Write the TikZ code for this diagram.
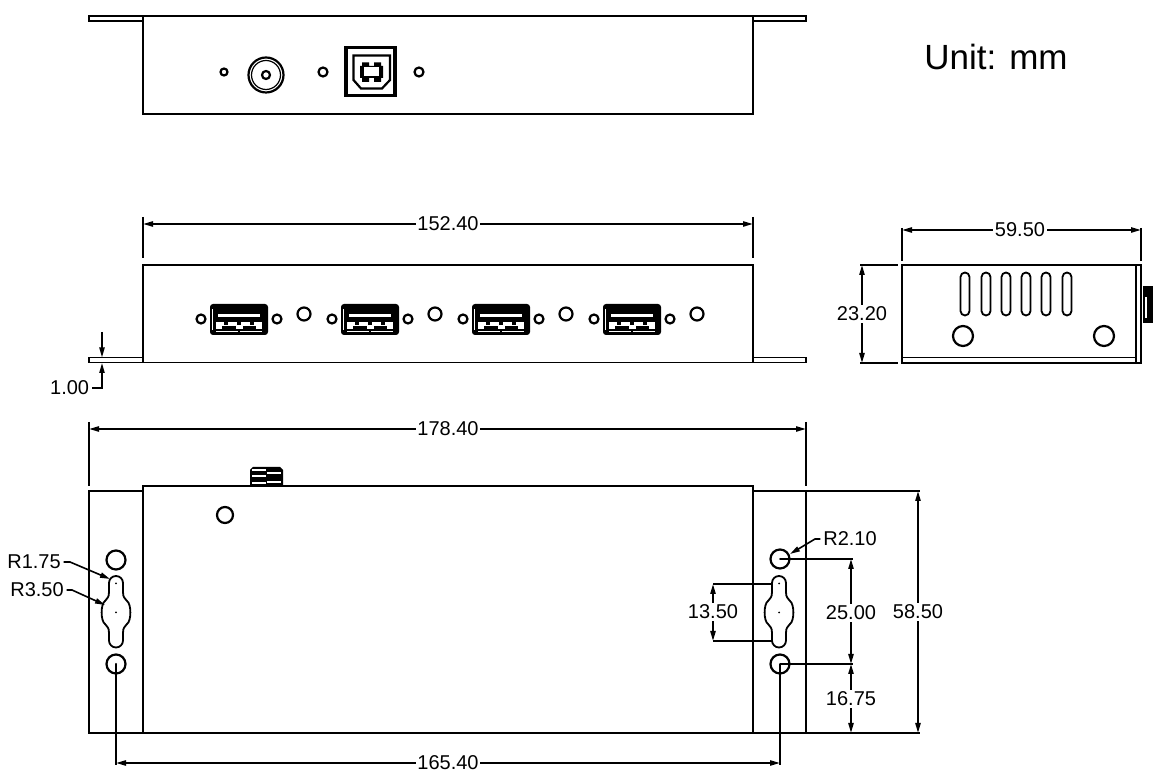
\documentclass[tikz,border=0pt]{standalone}
\usepackage{fontspec}
\setmainfont{Liberation Sans}
\usetikzlibrary{arrows.meta}
\tikzset{
  dimline/.style={line width=.9pt,{Stealth[length=5pt,width=2.6pt,inset=0pt]}-{Stealth[length=5pt,width=2.6pt,inset=0pt]}},
  dimlabel/.style={fill=white,inner sep=.8pt,font=\fontsize{10}{10}\selectfont},
  calloutlabel/.style={inner sep=1pt,font=\fontsize{10}{10}\selectfont},
  leader/.style={line width=.8pt,-{Stealth[length=5pt,width=2.6pt,inset=0pt]}},
  hole/.style={line width=1.1pt},
}
\newcommand{\usbport}[1]{%
\begin{scope}[shift={(#1,0)}]
\fill[rounded corners=1.5pt] (210,304) rectangle (268,335);
\fill[white] (212,309) rectangle (213,330);
\fill[white] (216,320) rectangle (262,329);
\fill[white] (218,314) rectangle (260,317);
\fill (216,319) rectangle (262,322);
\fill (224,320) rectangle (228,325);
\fill (237,320) rectangle (241,325);
\fill (250,320) rectangle (254,325);
\fill (222,326.5) rectangle (236,329);
\fill (243,326.5) rectangle (256,329);
\fill[white] (216,331.5) rectangle (238,332.3);
\fill[white] (240,331.5) rectangle (262,332.3);
\draw[hole] (201,319) circle (4.5);
\draw[hole] (277,319) circle (4.5);
\draw[hole] (304,314) circle (6.5);
\end{scope}}
\newcommand{\keyhole}[1]{%
\begin{scope}[shift={(#1,0)}]
\draw[line width=.9pt] (-7,583) arc (180:360:7) -- (7,592) .. controls (7,598) and (9,598) .. (11,601)
  .. controls (15.5,604) and (15.5,621) .. (11,624) .. controls (9,627) and (7,627) .. (7,633) -- (7,640.5)
  arc (0:180:7) -- (-7,633) .. controls (-7,627) and (-9,627) .. (-11,624)
  .. controls (-15.5,621) and (-15.5,604) .. (-11,601) .. controls (-9,598) and (-7,598) .. (-7,592) -- cycle;
\fill (0,583.5) circle (1);
\fill (0,612.5) circle (1);
\end{scope}}
\begin{document}
\begin{tikzpicture}[x=.5pt,y=-.5pt,line width=.9pt]
\useasboundingbox (0,0) rectangle (1153,774);
% rear panel
\draw (143,16) rectangle (753,114);
\draw (143,16) -- (89,16) -- (89,21) -- (143,21);
\draw (753,16) -- (806,16) -- (806,21) -- (753,21);
\draw[hole] (224,72) circle (3.5);
\draw[hole] (266,75) circle (17.5);
\draw[line width=.6pt] (266,75) circle (14.5);
\draw[hole] (266,75) circle (4);
\draw[hole] (323,72) circle (4.5);
\draw[line width=1.7pt] (346,47.5) rectangle (395,95.5);
\draw[hole] (353.5,55.5) -- (390,55.5) -- (390,80) -- (382,88.5) -- (361,88.5) -- (353.5,80) -- cycle;
\fill (360,66) -- (362,66) -- (362,62.5) -- (369,62.5) -- (369,66) -- (374,66) -- (374,62.5) -- (381,62.5)
  -- (381,66) -- (383,66) -- (383,78) -- (381,78) -- (381,82) -- (374,82) -- (374,78) -- (369,78)
  -- (369,82) -- (362,82) -- (362,78) -- (360,78) -- cycle;
\fill[white] (364,67.5) rectangle (379,76);
\draw[hole] (419,72) circle (4.5);
\node[font=\fontsize{17.5}{17.5}\selectfont] (unit) at (996,57) {Unit: mm};
% front panel
\draw (143,265) rectangle (753,362.5);
\draw (143,357.5) -- (89,357.5) -- (89,362.5) -- (143,362.5);
\draw (753,357.5) -- (806,357.5) -- (806,362.5) -- (753,362.5);
\usbport{0}
\usbport{131}
\usbport{262}
\usbport{393}
\draw (143,217) -- (143,258);
\draw (753,217) -- (753,258);
\draw[dimline] (143,224) -- (753,224);
\node[dimlabel] (w1) at (448,224) {152.40};
\coordinate (t1) at (102,332);
\coordinate (t2) at (102,388);
\coordinate (t3) at (92,388);
\draw[leader] (t1) -- (102,357.5);
\draw[leader] (t3) -- (t2) -- (102,363);
\node[anchor=east,calloutlabel] (th) at (t3) {1.00};
% side panel
\draw (902,265) rectangle (1141,363);
\draw (1136,265) -- (1136,363);
\draw (902,357.5) -- (1136,357.5);
\fill (1143,286) rectangle (1153,323);
\fill[white] (1145,297) rectangle (1147,318);
\foreach \sx in {965,986,1006,1026,1046,1067} {
  \draw (\sx-4.5,277) arc (180:360:4.5) -- (\sx+4.5,311) arc (0:180:4.5) -- cycle;
}
\draw[hole] (963,336) circle (10);
\draw[hole] (1104,336) circle (10);
\draw (902,228) -- (902,261);
\draw (1141,228) -- (1141,261);
\draw[dimline] (902,230) -- (1141,230);
\node[dimlabel] (w2) at (1020,230) {59.50};
\draw (860,265) -- (898,265);
\draw (860,363) -- (898,363);
\draw[dimline] (862,265) -- (862,363);
\node[dimlabel] (h1) at (862,314) {23.20};
% base plate
\draw (143,486) -- (753,486) -- (753,733) -- (143,733) -- cycle;
\draw (143,491) -- (89,491) -- (89,733) -- (143,733);
\draw (753,491) -- (806,491) -- (806,733) -- (753,733);
\fill (250,470) -- (253,467) -- (280,467) -- (283,470) -- (283,486) -- (250,486) -- cycle;
\fill[white] (252,469.5) rectangle (266,471.5);
\fill[white] (267,472) rectangle (281,474);
\fill[white] (252,475) rectangle (266,477);
\fill[white] (267,481) rectangle (281,483);
\fill[white] (252,482.5) rectangle (266,484);
\draw[hole] (225,515) circle (8);
\draw[hole] (116,560) circle (9.5);
\keyhole{116}
\draw[hole] (116,664) circle (9.5);
\fill (116,664) circle (1);
\draw[hole] (780,559) circle (9.5);
\fill (780,559) circle (1);
\keyhole{779}
\draw[hole] (780,664) circle (9.5);
\fill (780,664) circle (1);
% dims of the base plate
\draw (89,422) -- (89,486);
\draw (806,422) -- (806,486);
\draw[dimline] (89,429) -- (806,429);
\node[dimlabel] (w3) at (448,429) {178.40};
\draw (116,664) -- (116,765);
\draw (780,664) -- (780,765);
\draw[dimline] (116,763) -- (780,763);
\node[dimlabel] (w4) at (448,763) {165.40};
\draw (806,491) -- (920,491);
\draw (806,733) -- (920,733);
\draw[dimline] (918,491) -- (918,733);
\node[dimlabel] (h2) at (918,612) {58.50};
\draw (780,559) -- (853,559);
\draw (780,664) -- (853,664);
\draw[dimline] (851,559) -- (851,664);
\node[dimlabel] (h3) at (851,613) {25.00};
\draw[dimline] (851,664) -- (851,733);
\node[dimlabel] (h4) at (851,699) {16.75};
\draw (713,584) -- (772,584);
\draw (713,641) -- (772,641);
\draw[dimline] (713,584) -- (713,641);
\node[dimlabel] (h5) at (713,612) {13.50};
% radius callouts
\node[calloutlabel] (ra) at (34,562) {R1.75};
\node[calloutlabel] (rb) at (37,590) {R3.50};
\node[calloutlabel] (rc) at (850,539) {R2.10};
\draw[leader] (ra.east) -- (70,562) -- (110,579);
\draw[leader] (rb.east) -- (72,590) -- (105,605);
\draw[leader] (rc.west) -- (815,539) -- (790,554);
\end{tikzpicture}
\end{document}
